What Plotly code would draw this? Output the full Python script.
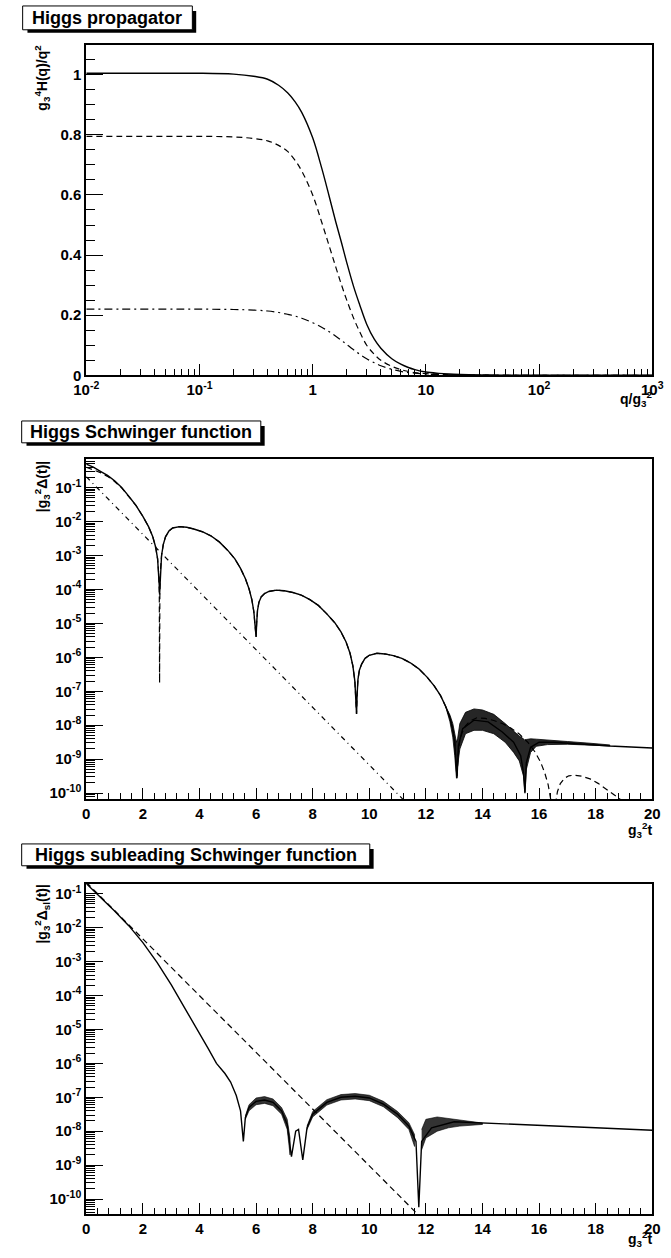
import plotly.graph_objects as go

W, H = 671, 1258

# ---------------- Panel 1: Higgs propagator ----------------
prop_q = [0.01, 0.02, 0.05, 0.1, 0.2, 0.3, 0.4, 0.5, 0.6, 0.7, 0.8, 1.0, 1.2, 1.4, 1.6,
          1.8, 2.0, 2.3, 2.6, 3.0, 3.5, 4, 5, 6, 7, 8, 10, 13, 16, 20, 30, 50, 100, 1000]
prop_solid = [1.005, 1.005, 1.005, 1.005, 1.002, 0.995, 0.985, 0.965, 0.94, 0.91, 0.875, 0.79,
              0.69, 0.595, 0.51, 0.44, 0.375, 0.295, 0.235, 0.17, 0.12, 0.09, 0.055, 0.037, 0.026,
              0.019, 0.011, 0.0065, 0.0042, 0.0028, 0.0012, 0.0005, 0.0001, 0.0]
prop_dashed = [0.795, 0.795, 0.795, 0.795, 0.793, 0.788, 0.78, 0.765, 0.745, 0.715, 0.68, 0.60,
               0.51, 0.43, 0.36, 0.30, 0.25, 0.19, 0.145, 0.10, 0.07, 0.05, 0.03, 0.019, 0.013,
               0.009, 0.0055, 0.0032, 0.002, 0.0013, 0.0005, 0.0002, 0.00005, 0.0]
prop_dashdot = [0.22, 0.22, 0.22, 0.22, 0.219, 0.217, 0.214, 0.209, 0.203, 0.197, 0.19, 0.175,
                0.16, 0.145, 0.13, 0.116, 0.102, 0.085, 0.07, 0.055, 0.042, 0.032, 0.02, 0.013,
                0.009, 0.007, 0.004, 0.0025, 0.0015, 0.001, 0.0004, 0.0001, 0.00003, 0.0]

# ---------------- Panel 2: Higgs Schwinger function (log10 values) ----------------
sch_t = [0.00, 0.25, 0.50, 0.75, 1.00, 1.25, 1.50, 1.75, 2.00, 2.20, 2.35, 2.45, 2.52, 2.56, 2.58, 2.59,
         2.60, 2.62, 2.66, 2.72, 2.80, 2.92, 3.05, 3.30, 3.55, 3.80, 4.10, 4.40, 4.70, 5.00, 5.25,
         5.45, 5.62, 5.75, 5.85, 5.92, 5.97, 6.00,
         6.02, 6.05, 6.10, 6.18, 6.30, 6.45, 6.72, 7.00, 7.30, 7.60, 7.90, 8.20, 8.50, 8.78, 9.00,
         9.18, 9.32, 9.42, 9.49, 9.53, 9.55,
         9.57, 9.60, 9.65, 9.73, 9.85, 10.00, 10.27, 10.55, 10.85, 11.15, 11.45, 11.75, 12.05,
         12.30, 12.52, 12.70, 12.85, 12.95, 13.02, 13.07, 13.10,
         13.15, 13.30, 13.70, 14.20, 14.70, 15.10, 15.35, 15.45, 15.50, 15.55, 15.70, 16.00,
         16.50, 17.00, 17.50, 18.00, 18.50, 19.00, 19.50, 20.00]
sch_solid_log = [-0.31, -0.40, -0.52, -0.64, -0.80, -1.00, -1.25, -1.52, -1.85, -2.15, -2.45, -2.75,
                 -3.10, -3.50, -3.90, -4.15,
                 -3.90, -3.45, -3.00, -2.68, -2.45, -2.28, -2.19, -2.15, -2.17, -2.22, -2.30, -2.42,
                 -2.60, -2.85, -3.10, -3.38, -3.68, -3.98, -4.30, -4.65, -5.05, -5.40,
                 -5.00, -4.62, -4.38, -4.22, -4.12, -4.06, -4.02, -4.04, -4.09, -4.17, -4.30, -4.47,
                 -4.72, -4.98, -5.25, -5.55, -5.88, -6.25, -6.70, -7.20, -7.67,
                 -7.10, -6.65, -6.38, -6.20, -6.03, -5.94, -5.88, -5.90, -5.95, -6.03, -6.16, -6.34,
                 -6.59, -6.85, -7.13, -7.45, -7.78, -8.12, -8.50, -9.00, -9.56,
                 -8.60, -8.10, -7.85, -7.90, -8.20, -8.50, -8.90, -9.40, -10.00, -9.10, -8.65, -8.50,
                 -8.50, -8.52, -8.55, -8.58, -8.61, -8.63, -8.65, -8.67]

sch_dash_t = [0.00, 0.25, 0.50, 0.75, 1.00, 1.25, 1.50, 1.75, 2.00, 2.20, 2.35, 2.45, 2.52, 2.56,
              2.58, 2.59, 2.60, 2.62, 2.66, 2.72, 2.80, 2.92, 3.05, 3.30, 3.55, 3.80, 4.10, 4.40,
              4.70, 5.00, 5.25, 5.45, 5.62, 5.75, 5.85, 5.92, 5.97, 6.00,
              6.02, 6.05, 6.10, 6.18, 6.30, 6.45, 6.72, 7.00, 7.30, 7.60, 7.90, 8.20, 8.50, 8.78,
              9.00, 9.18, 9.32, 9.42, 9.49, 9.53, 9.55,
              9.57, 9.60, 9.65, 9.73, 9.85, 10.00, 10.27, 10.55, 10.85, 11.15, 11.45, 11.75, 12.05,
              12.30, 12.52, 12.70, 12.85, 12.95, 13.02, 13.07, 13.10,
              13.12, 13.15, 13.20, 13.28, 13.40, 13.55, 13.80, 14.10, 14.40, 14.70, 15.00, 15.30,
              15.60, 15.85, 16.05, 16.20, 16.32, 16.42, 16.50,
              16.58, 16.65, 16.75, 16.90, 17.05, 17.25, 17.50, 17.80, 18.10, 18.40, 18.65, 18.90]
sch_dash_log = [-0.40, -0.47, -0.56, -0.67, -0.82, -1.01, -1.25, -1.52, -1.85, -2.15, -2.45, -2.75,
                -3.10, -3.55, -4.10, -6.75, -4.10, -3.45, -3.00, -2.68, -2.45, -2.28, -2.19, -2.15,
                -2.17, -2.22, -2.30, -2.42, -2.60, -2.85, -3.10, -3.38, -3.68, -3.98, -4.30, -4.65,
                -5.05, -5.40,
                -5.00, -4.62, -4.38, -4.22, -4.12, -4.06, -4.02, -4.04, -4.09, -4.17, -4.30, -4.47,
                -4.72, -4.98, -5.25, -5.55, -5.88, -6.25, -6.70, -7.20, -7.67,
                -7.10, -6.65, -6.38, -6.20, -6.03, -5.94, -5.88, -5.90, -5.95, -6.03, -6.16, -6.34,
                -6.59, -6.85, -7.13, -7.45, -7.78, -8.12, -8.50, -9.00, -9.56,
                -9.20, -8.75, -8.45, -8.22, -8.02, -7.88, -7.78, -7.80, -7.86, -7.95, -8.08, -8.26,
                -8.50, -8.78, -9.08, -9.40, -9.75, -10.20, -10.60,
                -10.30, -9.95, -9.72, -9.56, -9.49, -9.47, -9.50, -9.58, -9.72, -9.90, -10.05, -10.20]

sch_dashdot_t = [0.0, 11.2]
sch_dashdot_log = [-0.68, -10.19]

# noisy band of the lattice curve (upper / lower envelope, log10)
sch_band_t = [12.70, 12.85, 12.95, 13.02, 13.08, 13.12, 13.20, 13.40, 13.70, 14.00, 14.40, 14.80,
              15.10, 15.30, 15.45, 15.50, 15.55, 15.70, 15.90, 16.30, 17.00, 17.80, 18.50]
sch_band_hi = [-7.45, -7.70, -7.95, -8.20, -8.50, -8.40, -7.95, -7.62, -7.52, -7.55, -7.68, -7.95,
               -8.18, -8.32, -8.40, -8.45, -8.42, -8.40, -8.41, -8.44, -8.48, -8.53, -8.58]
sch_band_lo = [-7.45, -7.90, -8.35, -8.90, -9.56, -9.20, -8.70, -8.25, -8.15, -8.15, -8.25, -8.50,
               -8.80, -9.05, -9.50, -9.97, -9.30, -8.80, -8.62, -8.57, -8.56, -8.59, -8.61]

# ---------------- Panel 3: subleading Schwinger function (log10 values) ----------------
sub_t = [0.00, 0.50, 1.00, 1.50, 2.00, 2.50, 3.00, 3.50, 4.00, 4.30, 4.60, 4.90, 5.10, 5.30, 5.45,
         5.55, 5.62, 5.75, 6.00, 6.30, 6.60, 6.90, 7.10, 7.25, 7.40, 7.50, 7.65, 7.80, 8.00, 8.50,
         9.00, 9.50, 10.00, 10.50, 11.00, 11.40, 11.65, 11.75, 11.85, 12.20, 13.00, 14.00, 16.00,
         18.00, 20.00]
sub_solid_log = [-0.70, -1.09, -1.51, -1.94, -2.44, -3.02, -3.68, -4.40, -5.10, -5.55, -6.00, -6.30,
                 -6.55, -6.95, -7.40, -8.30, -7.60, -7.30, -7.12, -7.08, -7.15, -7.40, -7.80, -8.75,
                 -8.00, -7.95, -8.85, -7.90, -7.50, -7.15, -7.00, -6.97, -7.02, -7.20, -7.50, -7.85,
                 -8.30, -10.24, -8.30, -7.90, -7.72, -7.76, -7.83, -7.90, -7.97]
sub_dash_t = [0.0, 11.7]
sub_dash_log = [-0.66, -10.44]

# noisy bands of the subleading curve (upper / lower envelope, log10)
sub_band1_t = [5.62, 5.75, 6.00, 6.30, 6.60, 6.90, 7.10, 7.20]
sub_band1_hi = [-7.55, -7.22, -7.02, -6.98, -7.05, -7.30, -7.65, -8.20]
sub_band1_lo = [-7.65, -7.40, -7.22, -7.18, -7.25, -7.50, -7.95, -8.70]
sub_band2_t = [7.80, 8.00, 8.50, 9.00, 9.50, 10.00, 10.50, 11.00, 11.40, 11.60]
sub_band2_hi = [-7.85, -7.42, -7.07, -6.92, -6.89, -6.94, -7.12, -7.42, -7.75, -8.10]
sub_band2_lo = [-7.95, -7.58, -7.23, -7.08, -7.05, -7.10, -7.28, -7.60, -7.95, -8.45]
sub_band3_t = [11.85, 12.00, 12.40, 12.80, 13.20, 13.60, 14.00]
sub_band3_hi = [-7.95, -7.65, -7.58, -7.62, -7.68, -7.72, -7.76]
sub_band3_lo = [-8.55, -8.20, -8.00, -7.90, -7.85, -7.82, -7.80]


def pw(vals):
    return [10.0 ** v for v in vals]


fig = go.Figure()
BL = 'black'
# panel 1
fig.add_trace(go.Scatter(x=prop_q, y=prop_solid, mode='lines', xaxis='x', yaxis='y',
                         line=dict(color=BL, width=1.4, shape='spline')))
fig.add_trace(go.Scatter(x=prop_q, y=prop_dashed, mode='lines', xaxis='x', yaxis='y',
                         line=dict(color=BL, width=1.2, dash='6px,4px', shape='spline')))
fig.add_trace(go.Scatter(x=prop_q, y=prop_dashdot, mode='lines', xaxis='x', yaxis='y',
                         line=dict(color=BL, width=1.2, dash='8px,4px,2px,4px', shape='spline')))
# panel 2
fig.add_trace(go.Scatter(x=sch_dashdot_t, y=pw(sch_dashdot_log), mode='lines', xaxis='x2', yaxis='y2',
                         line=dict(color=BL, width=1.2, dash='5px,4px,1px,4px')))
fig.add_trace(go.Scatter(x=sch_dash_t, y=pw(sch_dash_log), mode='lines', xaxis='x2', yaxis='y2',
                         line=dict(color=BL, width=1.2, dash='6px,4px')))
fig.add_trace(go.Scatter(x=sch_t, y=pw(sch_solid_log), mode='lines', xaxis='x2', yaxis='y2',
                         line=dict(color=BL, width=1.4)))
fig.add_trace(go.Scatter(x=sch_band_t + sch_band_t[::-1], y=pw(sch_band_hi + sch_band_lo[::-1]),
                         mode='lines', fill='toself', fillcolor='rgba(0,0,0,0.85)', xaxis='x2',
                         yaxis='y2', line=dict(color=BL, width=0.8)))
# panel 3
fig.add_trace(go.Scatter(x=sub_dash_t, y=pw(sub_dash_log), mode='lines', xaxis='x3', yaxis='y3',
                         line=dict(color=BL, width=1.2, dash='6px,4px')))
fig.add_trace(go.Scatter(x=sub_t, y=pw(sub_solid_log), mode='lines', xaxis='x3', yaxis='y3',
                         line=dict(color=BL, width=1.4)))
for bt, bh, bl in [(sub_band1_t, sub_band1_hi, sub_band1_lo), (sub_band2_t, sub_band2_hi, sub_band2_lo),
                   (sub_band3_t, sub_band3_hi, sub_band3_lo)]:
    fig.add_trace(go.Scatter(x=bt + bt[::-1], y=pw(bh + bl[::-1]), mode='lines', fill='toself',
                             fillcolor='rgba(0,0,0,0.8)', xaxis='x3', yaxis='y3',
                             line=dict(color=BL, width=0.6)))

FONT = 'Liberation Sans'
tickfont = dict(family=FONT, size=15, color=BL, weight='bold')


def dom_y(top, bot):
    return [1 - bot / H, 1 - top / H]


xdom = [76 / W, 663 / W]


def log_minor(lo, hi):
    vals = []
    for d in range(lo, hi + 1):
        for k in range(2, 10):
            vals.append(k * 10.0 ** d)
    return vals


def sup(e):
    return '10<sup>%d</sup>' % e


common = dict(showline=True, linewidth=2, linecolor=BL, mirror=True, showgrid=False,
              zeroline=False, ticks='inside', tickcolor=BL, tickwidth=1, tickfont=tickfont,
              ticklabeloverflow='allow')

# panel 1 axes
xaxis1 = dict(common, type='log', range=[-2, 3], domain=xdom, anchor='y',
              tickvals=[0.01, 0.1, 1, 10, 100, 1000],
              ticktext=[sup(-2), sup(-1), '1', '10', sup(2), sup(3)], ticklen=11,
              minor=dict(tickvals=log_minor(-2, 2), ticks='inside', ticklen=6, tickcolor=BL,
                         showgrid=False))
yaxis1 = dict(common, range=[0, 1.1], domain=dom_y(44, 377), anchor='x',
              tickvals=[0, 0.2, 0.4, 0.6, 0.8, 1.0], ticktext=['0', '0.2', '0.4', '0.6', '0.8', '1'],
              ticklen=17, minor=dict(dtick=0.05, ticks='inside', ticklen=9, tickcolor=BL,
                                    showgrid=False))
# panel 2 axes
xaxis2 = dict(common, range=[0, 20], domain=xdom, anchor='y2', tickvals=list(range(0, 21, 2)),
              ticklen=11, minor=dict(dtick=0.4, ticks='inside', ticklen=6, tickcolor=BL,
                                     showgrid=False))
yaxis2 = dict(common, type='log', range=[-10.18, -0.17], domain=dom_y(461.7, 804), anchor='x2',
              tickvals=[10.0 ** e for e in range(-10, 0)], ticktext=[sup(e) for e in range(-10, 0)],
              ticklen=17, minor=dict(tickvals=log_minor(-11, -1), ticks='inside', ticklen=9,
                                    tickcolor=BL, showgrid=False))
# panel 3 axes
xaxis3 = dict(common, range=[0, 20], domain=xdom, anchor='y3', tickvals=list(range(0, 21, 2)),
              ticklen=11, minor=dict(dtick=0.4, ticks='inside', ticklen=6, tickcolor=BL,
                                     showgrid=False))
yaxis3 = dict(common, type='log', range=[-10.44, -0.71], domain=dom_y(889.3, 1221.7), anchor='x3',
              tickvals=[10.0 ** e for e in range(-10, 0)], ticktext=[sup(e) for e in range(-10, 0)],
              ticklen=17, minor=dict(tickvals=log_minor(-11, -1), ticks='inside', ticklen=9,
                                    tickcolor=BL, showgrid=False))

shapes = []
annotations = []


def title_box(x0, y0, x1, y1, text):
    # shadow
    shapes.append(dict(type='rect', xref='paper', yref='paper', x0=(x0 + 5) / W, x1=(x1 + 4) / W,
                       y0=1 - (y1 + 3) / H, y1=1 - (y0 + 5) / H, fillcolor=BL,
                       line=dict(width=0), layer='above'))
    shapes.append(dict(type='rect', xref='paper', yref='paper', x0=x0 / W, x1=x1 / W,
                       y0=1 - y1 / H, y1=1 - y0 / H, fillcolor='white',
                       line=dict(color=BL, width=1), layer='above'))
    annotations.append(dict(xref='paper', yref='paper', x=(x0 + x1) / 2 / W, y=1 - (y0 + y1) / 2 / H,
                            text=text, showarrow=False, xanchor='center', yanchor='middle',
                            font=dict(family=FONT, size=18, color=BL, weight='bold')))


title_box(10, 5, 186, 29, 'Higgs propagator')
title_box(9, 423, 257, 445, 'Higgs Schwinger function')
title_box(9, 849, 370, 871, 'Higgs subleading Schwinger function')

afont = dict(family=FONT, size=14, color=BL, weight='bold')


def ytitle(xc, ytop, text):
    annotations.append(dict(xref='paper', yref='paper', x=xc / W, y=1 - ytop / H, text=text,
                            textangle=-90, showarrow=False, xanchor='center', yanchor='top',
                            font=afont))


def xtitle(xr, yc, text):
    annotations.append(dict(xref='paper', yref='paper', x=xr / W, y=1 - yc / H, text=text,
                            showarrow=False, xanchor='right', yanchor='middle', font=afont))


ytitle(30, 42, 'g<sub>3</sub><sup>4</sup>H(q)/q<sup>2</sup>')
xtitle(665, 401, 'q/g<sub>3</sub><sup>2</sup>')
ytitle(30, 461, '|g<sub>3</sub><sup>2</sup>Δ(t)|')
xtitle(665, 835, 'g<sub>3</sub><sup>2</sup>t')
ytitle(30, 887, '|g<sub>3</sub><sup>2</sup>Δ<sub>sl</sub>(t)|')
xtitle(665, 1247, 'g<sub>3</sub><sup>2</sup>t')

fig.update_layout(width=W, height=H, margin=dict(l=0, r=0, t=0, b=0), showlegend=False,
                  paper_bgcolor='white', plot_bgcolor='white',
                  xaxis=xaxis1, yaxis=yaxis1, xaxis2=xaxis2, yaxis2=yaxis2,
                  xaxis3=xaxis3, yaxis3=yaxis3, shapes=shapes, annotations=annotations)

fig.write_html('out.html')
